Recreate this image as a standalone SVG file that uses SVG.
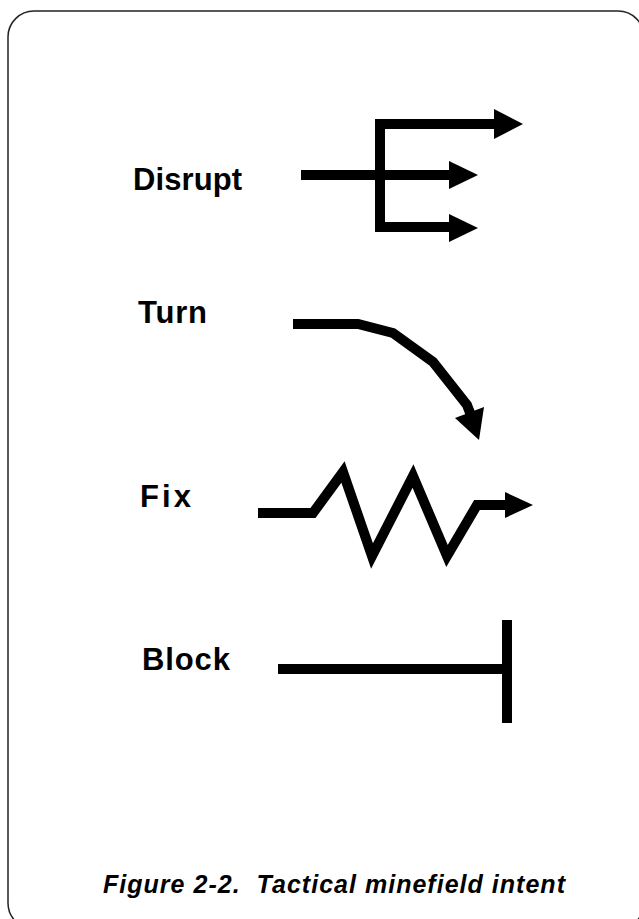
<svg xmlns="http://www.w3.org/2000/svg" width="639" height="919" viewBox="0 0 639 919">
<style>
.lbl{font-family:"Liberation Sans",Arial,sans-serif;font-weight:bold;font-size:31px;fill:#000}
.cap{font-family:"Liberation Sans",Arial,sans-serif;font-weight:bold;font-style:italic;font-size:25px;fill:#000}
.ln{fill:none;stroke:#000;stroke-width:10;stroke-linejoin:miter}
.ah{fill:#000}
</style>
<rect x="0" y="0" width="639" height="919" fill="#fff"/>
<rect x="8" y="11" width="636" height="918" rx="26" ry="26" fill="none" stroke="#222" stroke-width="1.5"/>
<g id="disrupt">
<text class="lbl" x="133" y="190" textLength="109" lengthAdjust="spacing">Disrupt</text>
</g>
<g id="turn">
<text class="lbl" x="138" y="323" textLength="69" lengthAdjust="spacing">Turn</text>
</g>
<g id="fix">
<text class="lbl" x="140" y="507" textLength="51" lengthAdjust="spacing">Fix</text>
</g>
<g id="block">
<text class="lbl" x="142" y="670" textLength="88" lengthAdjust="spacing">Block</text>
</g>
<g id="connectors">
<path class="ln" d="M301,175 H452"/>
<path class="ln" d="M497,124 H380 V227 H452"/>
<polygon class="ah" points="494,109 523,124 494,139"/>
<polygon class="ah" points="449,161 478,175 449,189"/>
<polygon class="ah" points="449,214 478,228 449,242"/>
<path class="ln" d="M293,324 H358 L393,333 L433,362 L467,405 L472,418"/>
<polygon class="ah" points="455,418 484,407 479,440"/>
<path class="ln" d="M258,513 H313 L343,472 L372,556 L413,476 L447,556 L477,505 H508"/>
<polygon class="ah" points="505,492 533,505 505,518"/>
<path class="ln" d="M278,669 H507"/>
<path class="ln" d="M507,620 V723"/>
</g>
<text class="cap" x="103" y="893" textLength="462" lengthAdjust="spacing" xml:space="preserve">Figure 2-2.  Tactical minefield intent</text>
</svg>
